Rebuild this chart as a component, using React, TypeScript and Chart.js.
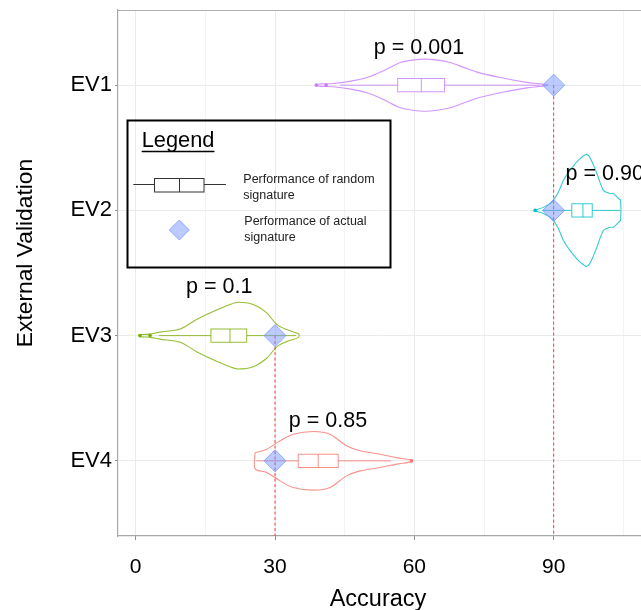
import React, { useEffect, useRef } from "react";
import { Chart, registerables } from "chart.js";

Chart.register(...registerables);

const FONT = '"Liberation Sans", Arial, Helvetica, sans-serif';

// ---- categories ----
const groups = ["EV1", "EV2", "EV3", "EV4"];
const groupPos = [1, 2, 3, 4];
const groupColors = ["#C77CFF", "#00BFC4", "#7CAE00", "#F8766D"];

// ---- x axis ----
const xTickValues = [0, 30, 60, 90];
const xMinorValues = [15, 45, 75, 105];

// ---- performance of actual signature ----
const actualAccuracy = [90, 90, 30, 30];

// ---- p-value labels (x in accuracy, y in category units at baseline) ----
const pLabels = ["p = 0.001", "p = 0.90", "p = 0.1", "p = 0.85"];
const pLabelX = [61, 101, 18, 41.4];
const pLabelY = [0.751, 1.757, 2.657, 3.727];

// ---- box plot stats of random signatures ----
const whiskerLow = [44, 87.5, 5, 26];
const boxQ1 = [56.4, 93.9, 16.2, 35];
const boxMedian = [61.5, 96.3, 20.3, 39.3];
const boxQ3 = [66.5, 98.3, 23.9, 43.6];
const whiskerHigh = [87, 104.3, 34.5, 55];
const outliers = [[38.9, 41], [86], [0.9, 3.1], [59.4]];

// ---- violin outlines (accuracy, half width in category units) ----
const ev1ViolinX = [38.9, 40, 42.5, 46, 49.8, 53, 57, 60, 62.3, 65, 67.7, 70.5, 73.5, 78.5, 84.2, 87, 88.8];
const ev1ViolinHalf = [0.005, 0.01, 0.013, 0.03, 0.061, 0.108, 0.181, 0.202, 0.208, 0.2, 0.181, 0.144, 0.104, 0.061, 0.022, 0.01, 0];
const ev2ViolinX = [86, 87.8, 89.6, 91, 92.1, 93.5, 95.3, 97, 97.8, 99.3, 100.7, 102, 102.9, 104, 104.4];
const ev2ViolinHalf = [0.004, 0.024, 0.066, 0.144, 0.24, 0.319, 0.399, 0.447, 0.423, 0.295, 0.16, 0.136, 0.133, 0.093, 0.08];
const ev3ViolinX = [0.9, 3, 5.2, 9.6, 13.1, 16.7, 20.3, 22.1, 25.3, 28.2, 30.4, 32.5, 35, 35.2];
const ev3ViolinHalf = [0.008, 0.012, 0.028, 0.053, 0.128, 0.192, 0.248, 0.266, 0.248, 0.181, 0.088, 0.048, 0.016, 0];
const ev4ViolinX = [25.7, 28.2, 31.1, 33.9, 38.3, 41.8, 45.4, 48.3, 52.6, 56.2, 59.4];
const ev4ViolinHalf = [0.064, 0.093, 0.16, 0.213, 0.234, 0.213, 0.12, 0.08, 0.053, 0.026, 0.006];

const violinX = [ev1ViolinX, ev2ViolinX, ev3ViolinX, ev4ViolinX];
const violinHalf = [ev1ViolinHalf, ev2ViolinHalf, ev3ViolinHalf, ev4ViolinHalf];

const BOX_HALF = 0.053;

function rgba(hex: string, a: number) {
  const n = parseInt(hex.slice(1), 16);
  return `rgba(${(n >> 16) & 255},${(n >> 8) & 255},${n & 255},${a})`;
}

const DIAMOND_FILL = "rgba(120,150,255,0.5)";
const DIAMOND_STROKE = "rgba(120,150,255,0.75)";

function violinPath(xs: number[], hs: number[], c: number) {
  const top = xs.map((x, i) => ({ x, y: c - hs[i] }));
  const bottom = xs.map((x, i) => ({ x, y: c + hs[i] })).reverse();
  const pts = [...top];
  bottom.forEach((p, i) => {
    if (i === 0 && hs[hs.length - 1] === 0) return;
    pts.push(p);
  });
  if (hs[0] !== 0) pts.push(top[0]);
  return pts;
}

const overlayPlugin = {
  id: "overlay",
  beforeDatasetsDraw(chart: any) {
    const { ctx, scales } = chart;
    const xs = scales.x;
    const ys = scales.y;
    ctx.save();
    groups.forEach((_, i) => {
      const cy = ys.getPixelForValue(groupPos[i]);
      const hh = Math.abs(ys.getPixelForValue(groupPos[i] + BOX_HALF) - cy);
      const px = (v: number) => xs.getPixelForValue(v);
      ctx.strokeStyle = rgba(groupColors[i], 0.8);
      ctx.lineWidth = 1;
      ctx.beginPath();
      ctx.moveTo(px(whiskerLow[i]), cy);
      ctx.lineTo(px(boxQ1[i]), cy);
      ctx.moveTo(px(boxQ3[i]), cy);
      ctx.lineTo(px(whiskerHigh[i]), cy);
      ctx.stroke();
      ctx.fillStyle = "#ffffff";
      const x0 = px(boxQ1[i]);
      const x1 = px(boxQ3[i]);
      ctx.fillRect(x0, cy - hh, x1 - x0, 2 * hh);
      ctx.strokeRect(x0, cy - hh, x1 - x0, 2 * hh);
      ctx.beginPath();
      ctx.moveTo(px(boxMedian[i]), cy - hh);
      ctx.lineTo(px(boxMedian[i]), cy + hh);
      ctx.stroke();
    });
    ctx.restore();
  },
  afterDraw(chart: any) {
    const { ctx, chartArea, scales } = chart;
    const xs = scales.x;
    const ys = scales.y;
    ctx.save();
    // top panel border
    ctx.strokeStyle = "#b0b0b0";
    ctx.lineWidth = 1.2;
    ctx.beginPath();
    ctx.moveTo(chartArea.left, chartArea.top + 0.5);
    ctx.lineTo(chartArea.right, chartArea.top + 0.5);
    ctx.stroke();

    // p-value labels
    ctx.fillStyle = "#000";
    ctx.font = `21.5px ${FONT}`;
    ctx.textAlign = "center";
    ctx.textBaseline = "alphabetic";
    pLabels.forEach((t, i) => {
      ctx.fillText(t, xs.getPixelForValue(pLabelX[i]), ys.getPixelForValue(pLabelY[i]));
    });

    // axis titles
    ctx.font = `23.5px ${FONT}`;
    ctx.fillText("Accuracy", 378, 606);
    ctx.save();
    ctx.translate(31.5, 253);
    ctx.rotate(-Math.PI / 2);
    ctx.font = `22.8px ${FONT}`;
    ctx.fillText("External Validation", 0, 0);
    ctx.restore();

    // legend
    ctx.strokeStyle = "#000";
    ctx.lineWidth = 2;
    ctx.strokeRect(127.5, 120.5, 263, 147);
    ctx.textAlign = "left";
    ctx.font = `21.8px ${FONT}`;
    ctx.fillStyle = "#000";
    ctx.fillText("Legend", 141.7, 147.3);
    const lw = ctx.measureText("Legend").width;
    ctx.lineWidth = 1.5;
    ctx.beginPath();
    ctx.moveTo(141.7, 151.5);
    ctx.lineTo(141.7 + lw, 151.5);
    ctx.stroke();

    ctx.strokeStyle = "#333";
    ctx.lineWidth = 1;
    ctx.beginPath();
    ctx.moveTo(133.3, 184.5);
    ctx.lineTo(154, 184.5);
    ctx.moveTo(204, 184.5);
    ctx.lineTo(226, 184.5);
    ctx.stroke();
    ctx.strokeRect(154.5, 178.5, 49.5, 13.5);
    ctx.beginPath();
    ctx.moveTo(179.5, 178.5);
    ctx.lineTo(179.5, 192);
    ctx.stroke();

    ctx.beginPath();
    ctx.moveTo(169.3, 230);
    ctx.lineTo(179.3, 220);
    ctx.lineTo(189.3, 230);
    ctx.lineTo(179.3, 240);
    ctx.closePath();
    ctx.fillStyle = DIAMOND_FILL;
    ctx.fill();
    ctx.strokeStyle = DIAMOND_STROKE;
    ctx.stroke();

    ctx.fillStyle = "#222";
    ctx.font = `12.5px ${FONT}`;
    ctx.fillText("Performance of random", 243.3, 183.3);
    ctx.fillText("signature", 243.3, 198.5);
    ctx.fillText("Performance of actual", 244.3, 225);
    ctx.fillText("signature", 244.3, 240.7);
    ctx.restore();
  },
};

export default function App() {
  const ref = useRef<HTMLCanvasElement | null>(null);
  useEffect(() => {
    if (!ref.current) return;
    const datasets: any[] = [];
    // diamonds: actual performance
    datasets.push({
      data: actualAccuracy.map((v, i) => ({ x: v, y: groupPos[i] })),
      pointStyle: "rectRot",
      pointRadius: 11,
      backgroundColor: DIAMOND_FILL,
      borderColor: DIAMOND_STROKE,
      borderWidth: 1,
      order: 0,
    });
    // dashed reference lines down to the axis
    const uniq = Array.from(new Set(actualAccuracy));
    uniq.forEach((v) => {
      const start = Math.min(...groupPos.filter((_, i) => actualAccuracy[i] === v));
      datasets.push({
        data: [{ x: v, y: start }, { x: v, y: 4.6 }],
        showLine: true,
        borderColor: "#e8403a",
        borderWidth: 1,
        borderDash: [3, 2.5],
        pointRadius: 0,
        order: 1,
      });
    });
    // outliers
    outliers.forEach((arr, i) => {
      datasets.push({
        data: arr.map((v) => ({ x: v, y: groupPos[i] })),
        pointRadius: 1.8,
        backgroundColor: groupColors[i],
        borderColor: groupColors[i],
        borderWidth: 0,
        order: 2,
      });
    });
    // violins
    groups.forEach((_, i) => {
      datasets.push({
        data: violinPath(violinX[i], violinHalf[i], groupPos[i]),
        showLine: true,
        borderColor: rgba(groupColors[i], 0.8),
        borderWidth: 1.1,
        pointRadius: 0,
        tension: 0.3,
        fill: false,
        order: 3,
      });
    });

    const chart = new Chart(ref.current, {
      type: "scatter",
      data: { datasets },
      options: {
        animation: false,
        responsive: false,
        devicePixelRatio: 1,
        events: [],
        layout: { autoPadding: false, padding: { top: 10, left: 0, right: 0, bottom: 0 } },
        plugins: { legend: { display: false }, tooltip: { enabled: false } },
        scales: {
          x: {
            type: "linear",
            min: -3.81,
            max: 108.8,
            afterBuildTicks: (axis: any) => {
              axis.ticks = [...xTickValues, ...xMinorValues].sort((a, b) => a - b).map((v) => ({ value: v }));
            },
            afterFit: (s: any) => {
              s.height = 74;
              s.paddingLeft = 0;
              s.paddingRight = 0;
            },
            ticks: {
              autoSkip: false,
              maxRotation: 0,
              padding: 15,
              color: "#000",
              font: { family: FONT, size: 21 },
              callback: (v: any) => (xTickValues.includes(Number(v)) ? String(v) : ""),
            },
            grid: {
              color: (c: any) => (c.tick && xTickValues.includes(c.tick.value) ? "#ebebeb" : "#f4f4f4"),
              tickColor: (c: any) => (c.tick && xTickValues.includes(c.tick.value) ? "#8c8c8c" : "rgba(0,0,0,0)"),
              tickLength: 4,
              lineWidth: 1,
            },
            border: { color: "#a8a8a8", width: 1.2 },
          },
          y: {
            type: "linear",
            reverse: true,
            min: 0.4,
            max: 4.6,
            afterBuildTicks: (axis: any) => {
              axis.ticks = groupPos.map((v) => ({ value: v }));
            },
            afterFit: (s: any) => {
              s.width = 118;
              s.paddingTop = 0;
              s.paddingBottom = 0;
            },
            ticks: {
              autoSkip: false,
              padding: 3,
              color: "#000",
              font: { family: FONT, size: 22 },
              callback: (v: any) => {
                const k = groupPos.indexOf(Number(v));
                return k >= 0 ? groups[k] : "";
              },
            },
            grid: { color: "#ebebeb", tickColor: "#8c8c8c", tickLength: 3, lineWidth: 1 },
            border: { color: "#a8a8a8", width: 1.2 },
          },
        },
      },
      plugins: [overlayPlugin],
    } as any);
    return () => chart.destroy();
  }, []);

  return (
    <div style={{ position: "absolute", left: 0, top: 0, width: 641, height: 610, background: "#fff" }}>
      <canvas ref={ref} width={641} height={610} style={{ display: "block", width: 641, height: 610 }} />
    </div>
  );
}
